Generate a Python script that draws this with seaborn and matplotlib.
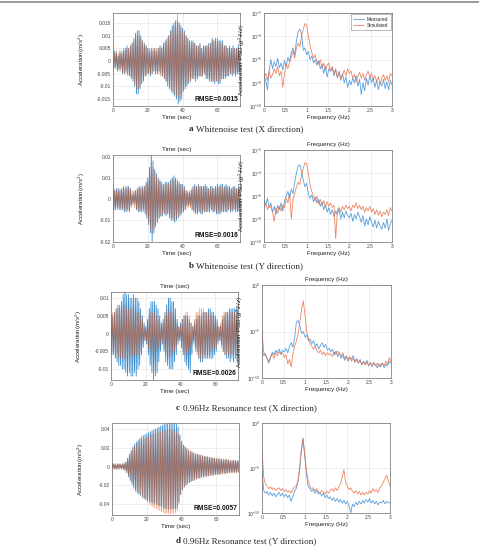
import numpy as np
import pandas as pd
import matplotlib
matplotlib.use("Agg")
import matplotlib.pyplot as plt
import seaborn as sns
from matplotlib.lines import Line2D

# ---------------- data ----------------
# time-history extremes, sampled every 0.5 s (values in 1e-3 m/s^2)
a_meas = [3,-3,4,-2,3,-4,2,-3,4,-3,3,
          -5,4,-5,5,-4,6,-5,5,-6,6,
          -7,7,-8,9,-10,11,-13,12,-13,12,
          -11,10,-9,8,-8,7,-6,6,-5,5,
          -5,4,-6,5,-5,4,-4,5,-5,4,
          -5,5,-4,6,-5,5,-6,7,-7,8,
          -8,9,-10,10,-11,12,-12,14,-13,15,
          -14,16,-15,16,-17,15,-16,14,-15,13,
          -12,12,-11,10,-10,9,-9,8,-8,8,
          -7,8,-7,7,-8,6,-7,6,-6,7,
          -6,5,-6,6,-5,6,-7,6,-7,7,
          -8,7,-8,9,-8,8,-9,9,-8,9,
          -9,8,-9,8,-7,8,-7,6,-7,6,
          -6,5,-6,6,-5,5,-6,6,-5,5,
          -6,5,-5,6,-5,4]
a_sim = [2,-3,3,-3,4,-2,3,-4,3,-4,4,
         -4,5,-5,4,-5,5,-6,5,-5,6,
         -6,7,-7,8,-9,10,-11,11,-11,10,
         -10,9,-9,8,-7,7,-6,6,-6,5,
         -5,5,-5,4,-5,5,-4,5,-5,5,
         -4,5,-5,5,-6,6,-6,7,-7,7,
         -8,8,-9,10,-10,11,-11,12,-12,14,
         -13,15,-14,19,-14,15,-15,13,-13,12,
         -11,11,-10,10,-9,9,-8,8,-8,7,
         -7,7,-6,7,-7,6,-6,6,-6,6,
         -6,5,-6,5,-5,6,-6,6,-7,6,
         -7,7,-8,8,-8,8,-8,8,-8,8,
         -8,8,-8,7,-7,7,-7,6,-6,6,
         -6,5,-5,5,-5,5,-5,5,-5,5,
         -5,5,-5,5,-4,4]
b_meas = [5,-5,4,-5,5,-4,5,-5,4,-5,5,
          -5,6,-6,5,-6,6,-5,6,-6,5,
          -3,2,-2,3,-2,4,-5,5,-6,6,
          -6,5,-6,6,-5,6,-7,8,-9,10,
          -12,15,-16,21,-20,18,-16,14,-13,12,
          -11,10,-9,9,-8,8,-8,7,-7,8,
          -8,8,-7,8,-9,9,-10,10,-10,11,
          -11,10,-10,9,-9,8,-8,7,-7,7,
          -6,6,-5,4,-3,3,-3,3,-3,4,
          -5,6,-6,7,-7,6,-7,7,-6,6,
          -7,6,-7,6,-6,7,-6,6,-6,5,
          -6,6,-5,6,-6,5,-6,6,-7,7,
          -7,6,-7,7,-6,7,-6,6,-6,7,
          -6,6,-5,6,-6,5,-6,6,-5,6,
          -6,5,-6,5,-6,5]
b_sim = [4,-4,5,-4,4,-5,4,-4,5,-4,4,
         -5,5,-5,6,-5,5,-6,5,-5,5,
         -4,4,-3,4,-4,4,-5,5,-5,5,
         -5,6,-5,5,-6,6,-6,7,-8,9,
         -11,13,-14,17,-16,15,-14,13,-12,11,
         -10,9,-9,8,-8,7,-7,7,-7,7,
         -7,7,-7,7,-8,8,-9,9,-9,9,
         -10,9,-9,8,-8,7,-7,7,-6,6,
         -6,5,-5,4,-4,4,-4,4,-4,5,
         -5,5,-6,6,-6,6,-6,6,-6,6,
         -6,6,-6,6,-6,6,-6,5,-5,5,
         -6,5,-5,5,-6,5,-5,6,-6,6,
         -6,6,-6,6,-6,6,-6,5,-5,6,
         -6,5,-5,5,-5,5,-5,5,-5,5,
         -5,5,-5,5,-5,5]
c_meas = [5,-6,5,-6,6,-7,7,-8,8,-9,8,
          -9,9,-10,11,-10,12,-11,11,-12,11,
          -11,10,-12,10,-12,11,-11,10,-12,10,
          -10,9,-9,7,-6,5,-4,3,-2,2,
          -3,4,-6,7,-9,9,-11,9,-13,9,
          -12,8,-11,7,-8,5,-5,3,-3,4,
          -5,6,-8,8,-9,10,-10,10,-10,9,
          -10,9,-8,7,-6,4,-3,2,-2,3,
          -4,4,-6,5,-8,5,-9,5,-10,4,
          -11,3,-6,2,-2,3,-4,4,-5,5,
          -7,5,-8,5,-8,6,-7,6,-7,6,
          -7,7,-7,7,-7,6,-7,6,-6,5,
          -5,4,-3,2,-2,2,-3,4,-5,5,
          -6,6,-7,6,-7,7,-8,7,-7,7,
          -8,7,-7,7,-8,7]
c_sim = [5,-5,6,-5,6,-6,7,-6,7,-7,7,
         -7,7,-7,8,-7,8,-7,7,-7,7,
         -7,7,-6,7,-7,6,-6,6,-6,6,
         -6,6,-5,5,-4,4,-3,2,-2,1,
         -2,3,-4,5,-5,6,-6,6,-6,6,
         -6,5,-5,4,-4,3,-3,2,-2,3,
         -4,5,-6,6,-6,7,-7,6,-6,6,
         -6,6,-5,5,-4,3,-2,2,-1,2,
         -3,4,-5,5,-6,6,-6,6,-5,5,
         -4,3,-2,2,-3,4,-5,6,-6,6,
         -7,7,-7,7,-7,7,-6,6,-6,6,
         -6,6,-6,5,-5,5,-5,5,-4,4,
         -4,3,-2,2,-2,3,-4,5,-5,6,
         -6,6,-6,6,-6,6,-6,6,-6,6,
         -6,6,-6,6,-6,6]
d_meas = [2,-2,3,-2,2,-3,2,-2,3,-2,2,
          -2,3,-3,3,-4,5,-7,9,-11,13,
          -15,17,-19,21,-23,24,-26,26,-28,28,
          -30,30,-31,32,-33,33,-34,34,-35,35,
          -36,36,-37,37,-38,38,-39,39,-40,40,
          -40,41,-41,42,-42,43,-43,44,-44,45,
          -45,45,-45,46,-46,46,-45,46,-45,46,
          -45,46,-45,45,-44,42,-38,34,-30,27,
          -25,23,-22,21,-20,19,-18,17,-17,16,
          -16,15,-15,14,-14,13,-13,13,-12,12,
          -12,12,-11,11,-11,11,-10,10,-10,10,
          -10,10,-9,9,-9,9,-9,9,-8,8,
          -8,8,-8,8,-8,8,-7,7,-7,7,
          -7,7,-7,7,-6,6,-6,6,-6,6,
          -6,6,-6,6,-6,6]
d_sim = [3,-3,3,-3,3,-3,3,-3,3,-3,3,
         -3,3,-3,4,-4,5,-6,7,-9,11,
         -13,15,-17,19,-21,22,-24,23,-26,25,
         -28,27,-30,28,-32,29,-34,30,-36,31,
         -38,32,-40,33,-42,34,-43,35,-44,36,
         -45,36,-46,37,-47,37,-48,38,-49,38,
         -50,38,-50,39,-50,39,-51,39,-50,39,
         -50,38,-49,37,-47,35,-40,32,-30,26,
         -25,23,-22,21,-20,19,-19,18,-17,17,
         -16,16,-15,15,-15,14,-14,14,-13,13,
         -13,12,-12,12,-12,11,-11,11,-11,11,
         -10,10,-10,10,-10,9,-9,9,-9,9,
         -9,9,-9,8,-8,8,-8,8,-8,8,
         -8,8,-7,7,-7,7,-7,7,-7,7,
         -7,7,-7,6,-6,6]

# PSD, log10(g^2/Hz), sampled every 0.04 Hz from 0 to 3 Hz
a_psd_meas = [-7.4,-7.8,-8.6,-7.0,-6.0,-6.8,-6.2,-6.6,-5.9,-6.7,
              -6.3,-6.9,-6.1,-6.6,-5.8,-6.2,-5.4,-5.0,-5.6,-4.4,
              -3.6,-3.4,-3.8,-5.2,-5.0,-5.6,-5.3,-6.0,-5.7,-6.3,
              -6.0,-6.5,-6.1,-6.8,-6.4,-7.2,-6.6,-7.5,-6.8,-7.0,
              -6.7,-7.4,-6.9,-7.6,-7.0,-7.8,-7.2,-8.0,-7.5,-8.4,
              -7.8,-8.2,-7.6,-8.0,-7.4,-8.3,-7.7,-9.0,-8.0,-8.7,
              -7.6,-8.2,-7.4,-8.0,-7.6,-8.4,-7.8,-8.6,-7.9,-8.3,
              -7.7,-8.5,-7.9,-8.6,-7.8,-8.2]
a_psd_sim = [-7.5,-7.2,-7.8,-7.0,-7.6,-7.3,-6.8,-7.2,-6.6,-7.4,
             -7.0,-8.4,-7.2,-6.4,-6.8,-6.2,-5.8,-5.3,-5.9,-5.0,
             -4.6,-4.9,-4.0,-3.4,-2.9,-3.1,-4.0,-4.8,-5.4,-5.9,
             -5.6,-6.2,-6.4,-6.0,-6.7,-6.3,-6.9,-6.5,-6.3,-7.0,
             -6.6,-7.2,-6.8,-7.5,-7.1,-7.7,-7.3,-6.9,-7.4,-6.8,
             -7.2,-7.0,-7.6,-7.3,-7.9,-7.4,-7.1,-7.6,-7.2,-7.8,
             -7.3,-7.0,-7.5,-7.2,-7.7,-7.4,-7.9,-7.5,-8.1,-7.6,
             -7.3,-7.8,-7.4,-7.9,-7.2,-7.4]
b_psd_meas = [-6.4,-6.8,-6.2,-7.0,-6.6,-7.4,-6.9,-7.6,-6.8,-7.2,
              -6.6,-7.3,-6.5,-6.0,-5.6,-6.2,-5.4,-5.8,-4.8,-4.0,
              -3.4,-3.3,-3.9,-4.6,-5.2,-4.9,-5.8,-6.2,-5.9,-6.5,
              -6.1,-6.6,-6.3,-6.9,-6.5,-7.2,-6.8,-7.4,-7.0,-7.6,
              -7.2,-7.8,-7.3,-7.6,-7.1,-8.0,-7.4,-7.9,-7.3,-7.7,
              -7.9,-7.5,-8.2,-7.6,-8.0,-7.4,-7.8,-8.3,-7.7,-8.6,
              -8.0,-8.5,-7.8,-8.3,-8.7,-8.1,-8.8,-8.2,-8.6,-8.9,
              -8.3,-8.8,-8.0,-9.0,-8.4,-8.1]
b_psd_sim = [-7.0,-6.6,-7.2,-6.8,-7.0,-7.4,-8.2,-7.0,-7.5,-6.9,
             -7.3,-6.8,-7.0,-6.2,-6.6,-5.8,-8.0,-6.3,-5.8,-5.2,
             -4.8,-5.0,-4.2,-3.6,-3.1,-3.2,-4.0,-5.0,-5.6,-6.0,
             -6.4,-6.0,-6.7,-6.3,-6.8,-6.4,-7.0,-6.5,-6.9,-6.6,
             -7.0,-6.8,-9.7,-7.2,-7.0,-7.4,-6.9,-7.2,-6.8,-7.1,
             -6.9,-7.3,-6.8,-7.0,-6.6,-7.1,-6.8,-7.2,-6.9,-7.4,
             -7.0,-7.3,-6.9,-7.4,-7.1,-7.6,-7.2,-7.7,-7.3,-7.8,
             -7.4,-7.6,-7.2,-7.7,-7.0,-7.3]
c_psd_meas = [-7.1,-7.6,-7.4,-8.0,-8.4,-7.8,-7.2,-7.5,-7.0,-7.3,
              -6.9,-7.4,-7.0,-7.2,-6.8,-7.3,-6.6,-6.2,-6.7,-5.6,
              -4.0,-3.8,-4.4,-5.2,-5.0,-5.6,-5.4,-6.0,-5.8,-6.3,
              -6.0,-6.6,-6.3,-6.9,-6.5,-6.2,-6.7,-6.4,-7.0,-6.8,
              -7.2,-6.9,-7.5,-7.1,-7.7,-7.3,-7.9,-7.5,-8.1,-7.7,
              -8.2,-7.8,-8.0,-7.6,-8.3,-7.9,-8.4,-8.0,-8.6,-8.2,
              -8.5,-8.1,-8.7,-8.3,-8.8,-8.4,-8.6,-8.9,-8.5,-8.8,
              -8.4,-8.9,-8.5,-8.7,-8.2,-8.4]
c_psd_sim = [-4.9,-7.2,-7.6,-7.9,-8.2,-7.7,-7.4,-7.9,-7.3,-7.6,
             -7.2,-7.5,-7.3,-7.8,-7.5,-8.5,-8.0,-8.8,-7.4,-6.6,
             -6.0,-5.2,-4.0,-2.6,-1.7,-3.2,-5.0,-5.8,-6.3,-6.6,
             -6.9,-6.6,-7.1,-7.3,-7.0,-7.5,-7.2,-7.6,-7.3,-7.5,
             -7.4,-7.7,-7.2,-7.5,-7.1,-7.4,-7.6,-7.3,-7.9,-7.6,
             -8.0,-7.7,-8.2,-7.9,-8.3,-8.0,-8.4,-8.1,-8.5,-8.2,
             -8.6,-8.3,-8.7,-8.4,-8.6,-8.3,-8.7,-8.4,-8.8,-8.5,
             -8.4,-8.7,-8.2,-8.5,-7.8,-8.2]
d_psd_meas = [-5.3,-7.5,-7.8,-7.6,-8.0,-7.7,-8.1,-7.8,-8.2,-7.9,
              -7.7,-8.1,-7.8,-8.2,-7.9,-8.3,-8.0,-8.7,-8.2,-7.6,
              -7.3,-6.6,-5.4,-3.2,-1.7,-3.6,-5.6,-7.0,-7.3,-7.6,
              -7.4,-7.8,-7.5,-7.9,-7.7,-8.1,-7.8,-8.3,-8.0,-8.4,
              -8.2,-8.6,-8.3,-8.7,-8.4,-8.8,-8.5,-8.9,-8.6,-9.0,
              -8.7,-9.2,-10.0,-9.0,-9.3,-8.8,-9.1,-8.7,-9.0,-8.6,
              -8.9,-8.5,-8.8,-8.4,-8.9,-8.6,-9.0,-8.7,-9.1,-8.8,
              -8.9,-8.6,-9.0,-8.7,-8.9,-8.8]
d_psd_sim = [-3.0,-6.0,-6.8,-7.0,-7.3,-7.1,-7.4,-7.2,-7.5,-7.3,
             -7.2,-7.5,-7.3,-7.6,-7.4,-7.7,-7.5,-7.8,-7.4,-7.1,
             -7.0,-6.5,-5.0,-3.0,-1.7,-3.4,-5.2,-6.4,-7.0,-7.3,
             -7.2,-7.5,-7.3,-7.6,-7.8,-7.5,-7.7,-7.9,-7.6,-7.8,
             -7.5,-7.3,-7.6,-7.2,-7.5,-7.1,-6.8,-6.0,-5.2,-6.6,
             -7.0,-7.4,-7.2,-7.6,-7.8,-7.5,-7.9,-7.6,-8.0,-7.7,
             -8.0,-7.7,-7.9,-7.5,-7.8,-7.3,-7.6,-7.4,-7.7,-7.2,
             -7.0,-6.6,-6.2,-5.8,-6.4,-7.0]

rmse_labels = ["RMSE=0.0015", "RMSE=0.0016", "RMSE=0.0026", "RMSE=0.0057"]
captions = [("a", "Whitenoise test (X direction)"),
            ("b", "Whitenoise test (Y direction)"),
            ("c", "0.96Hz Resonance test (X direction)"),
            ("d", "0.96Hz Resonance test (Y direction)")]
acc_ticks = [[-0.015, -0.01, -0.005, 0, 0.005, 0.01, 0.015],
             [-0.02, -0.01, 0, 0.01, 0.02],
             [-0.01, -0.005, 0, 0.005, 0.01],
             [-0.04, -0.02, 0, 0.02, 0.04]]
acc_ticklabels = [["-0.015", "-0.01", "-0.005", "0", "0.005", "0.01", "0.015"],
                  ["-0.02", "-0.01", "0", "0.01", "0.02"],
                  ["-0.01", "-0.005", "0", "0.005", "0.01"],
                  ["-0.04", "-0.02", "0", "0.02", "0.04"]]
acc_ylims = [(-0.0178, 0.019), (-0.0202, 0.0208), (-0.0131, 0.0117), (-0.0517, 0.0464)]
psd_exps = [[-10, -8, -6, -4, -2], [-10, -8, -6, -4, -2], [-10, -5, 0], [-10, -5, 0]]
time_ticks = [0, 20, 40, 60]
freq_ticks = [0, 0.5, 1, 1.5, 2, 2.5, 3]
freq_ticklabels = ["0", "0.5", "1", "1.5", "2", "2.5", "3"]
series_names = ["Measured", "Simulated"]

# ---------------- style ----------------
sns.set_theme(style="whitegrid", rc={
    "axes.edgecolor": "#6b6b6b", "axes.linewidth": 0.5,
    "grid.color": "#e3e3e3", "grid.linewidth": 0.45,
    "xtick.major.size": 1.8, "ytick.major.size": 1.8,
    "xtick.major.width": 0.4, "ytick.major.width": 0.4,
    "xtick.direction": "in", "ytick.direction": "in",
    "xtick.color": "#444444", "ytick.color": "#444444",
    "xtick.major.pad": 1.5, "ytick.major.pad": 1.5,
})
plt.rcParams["font.family"] = ["Liberation Sans", "DejaVu Sans"]
plt.rcParams["mathtext.fontset"] = "custom"
plt.rcParams["mathtext.rm"] = "Liberation Sans"
plt.rcParams["mathtext.it"] = "Liberation Sans:italic"

BLUE = "#1f7fc9"
ORANGE = "#e0622a"
palette = {"Measured": BLUE, "Simulated": ORANGE}

W, H = 479, 547
fig = plt.figure(figsize=(W / 100, H / 100), dpi=100)
fig.patch.set_facecolor("white")


def ax_px(l, t, r, b):
    return fig.add_axes([l / W, 1 - b / H, (r - l) / W, (b - t) / H])


left_boxes = [(113, 13, 240, 106), (113, 155, 240, 242), (111, 292, 238, 380), (112, 423, 239, 515)]
right_boxes = [(264, 13, 392, 106), (264, 150, 392, 242), (262, 285, 391, 378), (262, 423, 390, 513)]
caption_y = [129, 266, 408, 541]
has_title = [False, True, True, False]
has_psd_label = [True, True, True, False]
left_label_x = [87, 87, 84, 86]
right_label_x = [247, 247, 245, 245]

time_series = [(a_meas, a_sim), (b_meas, b_sim), (c_meas, c_sim), (d_meas, d_sim)]
psd_series = [(a_psd_meas, a_psd_sim), (b_psd_meas, b_psd_sim),
              (c_psd_meas, c_psd_sim), (d_psd_meas, d_psd_sim)]

TICK_FS = 3.5
LAB_FS = 4.5

for i in range(4):
    # ---- time history ----
    lb = left_boxes[i]
    ax = ax_px(*lb)
    meas, sim = time_series[i]
    t = np.arange(len(meas)) * 0.5
    for name, vals, alpha in [("Measured", meas, 0.95), ("Simulated", sim, 0.62)]:
        df = pd.DataFrame({"t": t, "acc": np.asarray(vals) * 1e-3})
        sns.lineplot(data=df, x="t", y="acc", ax=ax, color=palette[name],
                     lw=0.55, alpha=alpha, estimator=None, sort=False)
    ax.set_xlim(0, 73)
    ax.set_ylim(*acc_ylims[i])
    ax.set_xticks(time_ticks)
    ax.set_xticklabels([str(v) for v in time_ticks])
    ax.set_yticks(acc_ticks[i])
    ax.set_yticklabels(acc_ticklabels[i])
    ax.tick_params(labelsize=TICK_FS)
    ax.set_xlabel("Time (sec)", fontsize=LAB_FS, labelpad=1.5, color="#222222")
    ax.set_ylabel(r"Acceleration$(m/s^2)$", fontsize=LAB_FS, color="#222222")
    ax.yaxis.set_label_coords((left_label_x[i] - lb[0]) / (lb[2] - lb[0]), 0.5)
    if has_title[i]:
        ax.set_title("Time (sec)", fontsize=LAB_FS, pad=3, color="#222222")
    ax.text(0.985, 0.035, rmse_labels[i], transform=ax.transAxes, ha="right", va="bottom",
            fontsize=4.8, fontweight="bold", color="#111111")
    ax.grid(True)

    # ---- PSD ----
    rb = right_boxes[i]
    ax2 = ax_px(*rb)
    pm, ps = psd_series[i]
    rows = []
    for name, vals in [("Measured", pm), ("Simulated", ps)]:
        rows.append(pd.DataFrame({"f": np.linspace(0, 3, len(vals)),
                                  "psd": 10.0 ** np.asarray(vals), "series": name}))
    dfp = pd.concat(rows, ignore_index=True)
    sns.lineplot(data=dfp, x="f", y="psd", hue="series", hue_order=series_names,
                 palette={"Measured": "#3a8fd6", "Simulated": "#e8714a"},
                 lw=0.6, alpha=0.85, estimator=None, sort=False, ax=ax2,
                 legend=(i == 0))
    ax2.set_yscale("log")
    ex = psd_exps[i]
    ax2.set_ylim(10.0 ** ex[0], 10.0 ** ex[-1])
    ax2.set_yticks([10.0 ** e for e in ex])
    ax2.set_yticklabels([r"$10^{%d}$" % e for e in ex])
    ax2.minorticks_off()
    ax2.set_xlim(0, 3)
    ax2.set_xticks(freq_ticks)
    ax2.set_xticklabels(freq_ticklabels)
    ax2.tick_params(labelsize=TICK_FS)
    ax2.set_xlabel("Frequency (Hz)", fontsize=LAB_FS, labelpad=1.5, color="#222222")
    if has_psd_label[i]:
        ax2.set_ylabel(r"Acceleration PSD $(g^2/Hz)$", fontsize=LAB_FS, color="#222222")
        ax2.yaxis.set_label_coords((right_label_x[i] - rb[0]) / (rb[2] - rb[0]), 0.5)
    else:
        ax2.set_ylabel("")
    if has_title[i]:
        ax2.set_title("Frequency (Hz)", fontsize=LAB_FS, pad=3, color="#222222")
    ax2.grid(True)
    if i == 0:
        leg = ax2.legend(loc="upper right", fontsize=3.4, frameon=True, fancybox=False,
                         handlelength=2.4, borderpad=0.45, labelspacing=0.3,
                         handletextpad=0.6, borderaxespad=0.3, title=None)
        leg.get_frame().set_linewidth(0.4)
        leg.get_frame().set_edgecolor("#666666")

# ---- captions ----
fig.canvas.draw()
renderer = fig.canvas.get_renderer()
for i, (letter, rest) in enumerate(captions):
    y = 1 - caption_y[i] / H
    t1 = fig.text(0, y, letter, fontsize=6.6, fontweight="bold",
                  family=["Liberation Serif", "DejaVu Serif"], va="center", ha="left")
    t2 = fig.text(0, y, rest, fontsize=6.6,
                  family=["Liberation Serif", "DejaVu Serif"], va="center", ha="left")
    w1 = t1.get_window_extent(renderer).width
    w2 = t2.get_window_extent(renderer).width
    gap = 3.0
    total = w1 + gap + w2
    x0 = 246 - total / 2
    t1.set_x(x0 / W)
    t2.set_x((x0 + w1 + gap) / W)

# page border line at the top
fig.add_artist(Line2D([0, 1], [1 - 2 / H, 1 - 2 / H], transform=fig.transFigure,
                      color="#9a9a9a", lw=1.4))

fig.savefig("out.png", dpi=100)
